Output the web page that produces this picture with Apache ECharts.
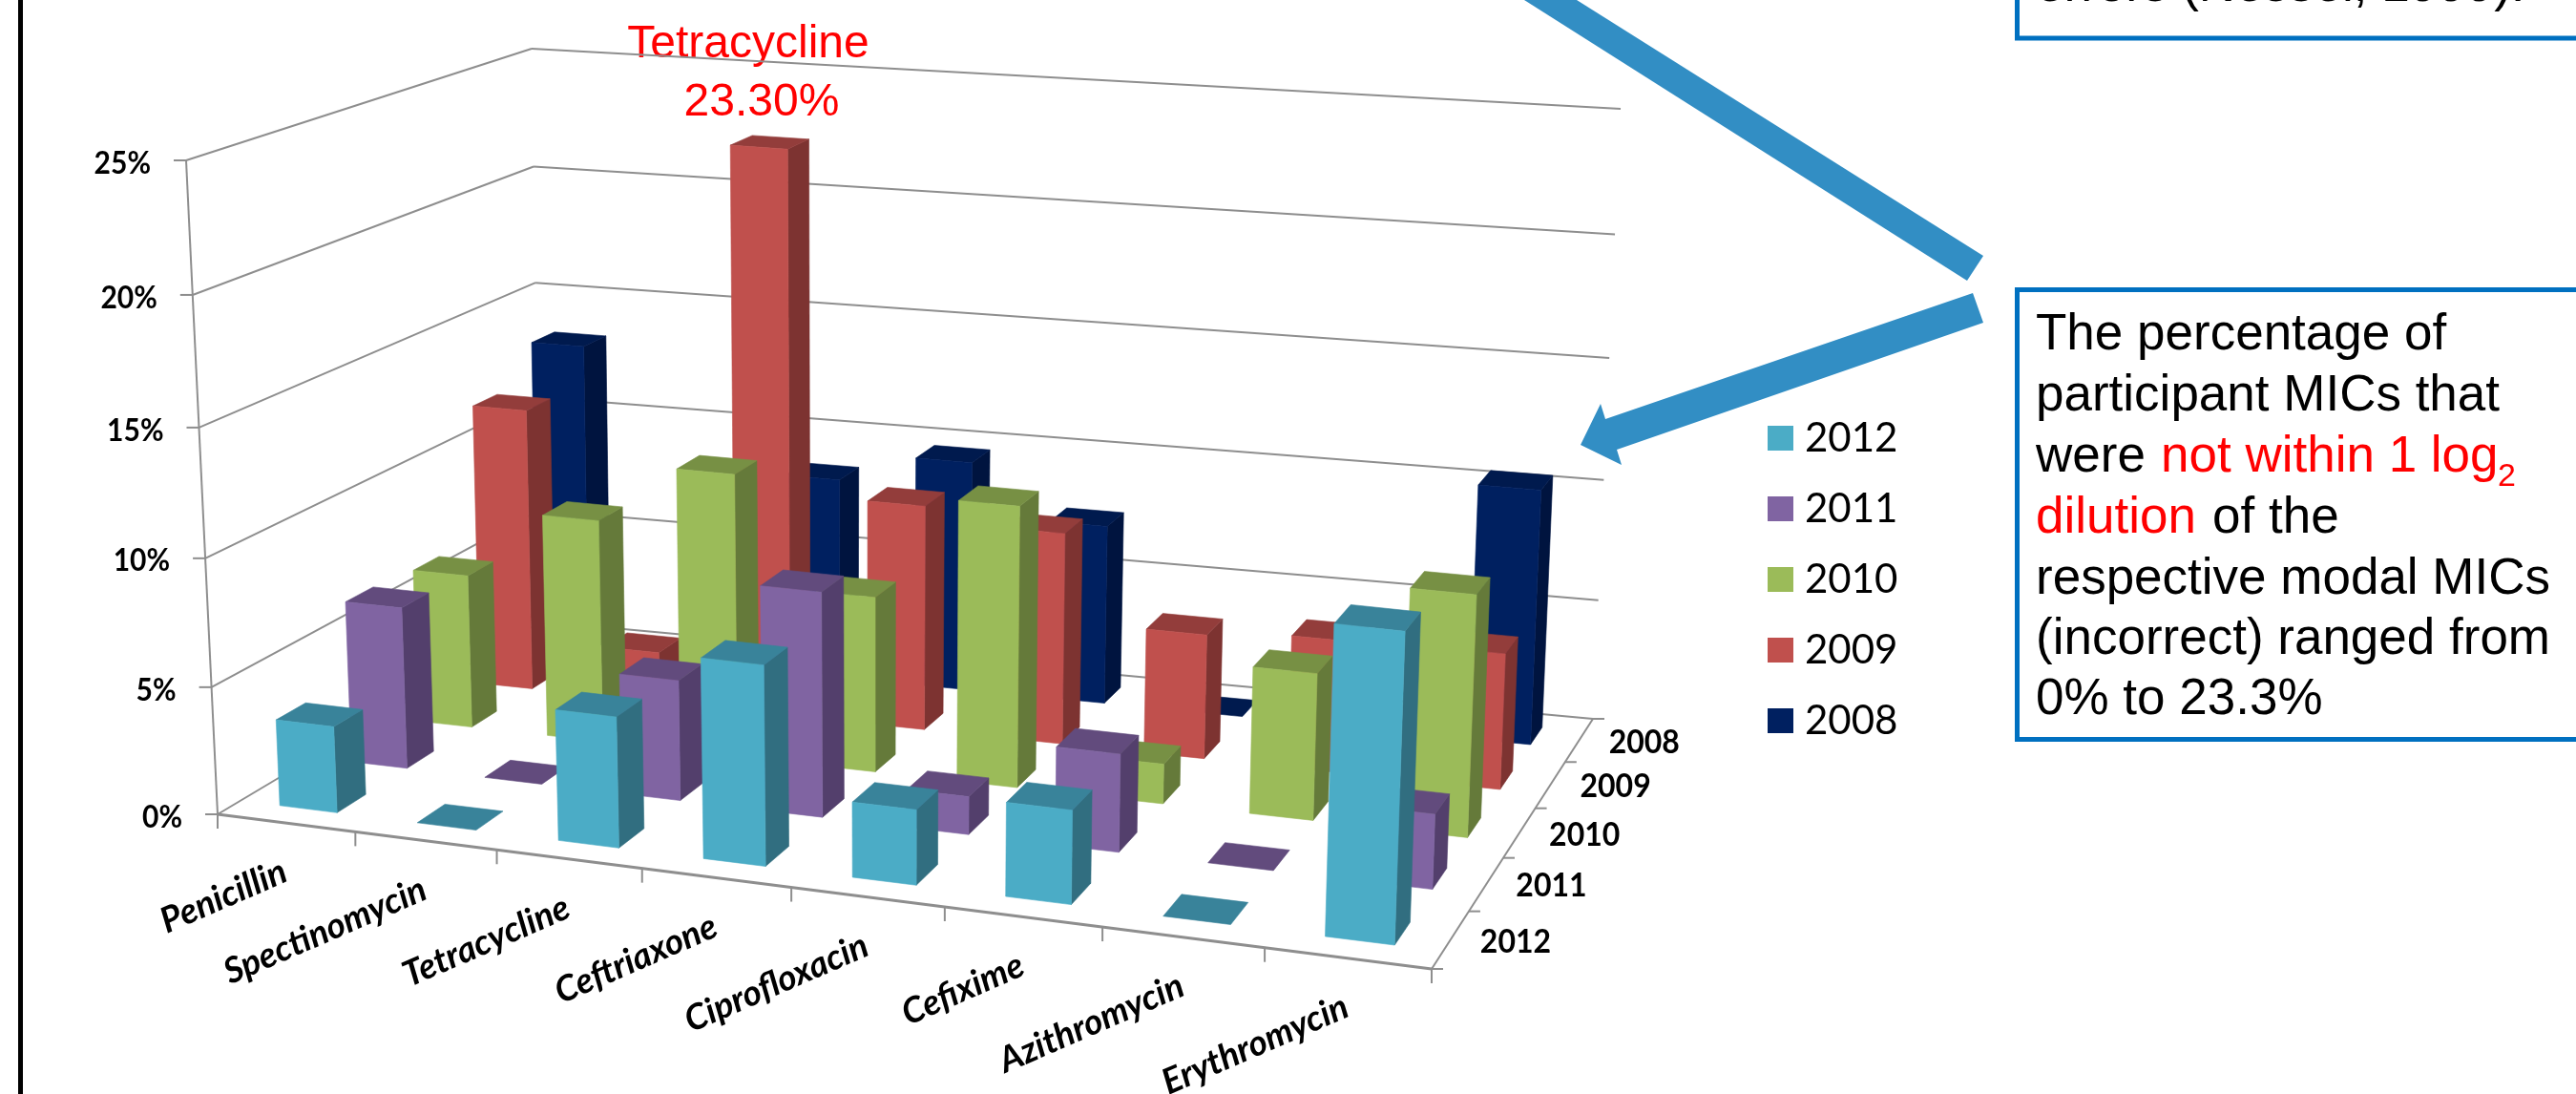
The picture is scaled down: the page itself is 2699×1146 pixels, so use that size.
<!DOCTYPE html>
<html><head><meta charset="utf-8">
<style>html,body{margin:0;padding:0;background:#fff}#c{width:2699px;height:1146px}</style>
<script src="https://cdn.jsdelivr.net/npm/echarts@6/dist/echarts.min.js"></script>
</head><body><div id="c"></div>
<script>
const categories = ['Penicillin','Spectinomycin','Tetracycline','Ceftriaxone','Ciprofloxacin','Cefixime','Azithromycin','Erythromycin'];
const years = ['2008','2009','2010','2011','2012'];
const yTicks = [0,5,10,15,20,25];
const v2008 = [13.3,0,8.5,9.7,7.5,0,0,10.5];
const v2009 = [11.8,2.1,23.3,9.3,8.7,5.1,5.4,5.5];
const v2010 = [6.3,9.1,11.5,7.1,11.3,1.6,5.85,9.55];
const v2011 = [6.5,0,4.8,8.9,1.5,3.85,0,2.9];
const v2012 = [3.4,0,5.1,7.75,2.9,3.6,0,11.65];
const yearValues = [v2008,v2009,v2010,v2011,v2012];
const frontColors = ['#002060','#C0504D','#9BBB59','#8064A2','#4BACC6'];
const topColors   = ['#001A4E','#933D3B','#779044','#624B7D','#39839A'];
const sideColors  = ['#00143F','#7D3331','#657A3A','#533F6C','#316E80'];

// chart box as drawn: corners front-left, front-right, back-right, back-left at 0% and at 25%
const floorQ = [[228,853],[1500,1015],[1669,753],[567,651]];
const ceilQ  = [[195,168],[1526,288],[1698,114],[557,51]];
const qCat=1.116, qRow=0.835, qZ=-0.035; // foreshortening along categories, rows and height
const warp=(a,q)=>a/(a+q*(1-a));
const bil=(Q,s,t)=>[0,1].map(k=>(1-t)*((1-s)*Q[0][k]+s*Q[1][k])+t*((1-s)*Q[3][k]+s*Q[2][k]));
function proj(u,t,z){ // u: categories (0..8), t: rows (0 = front .. 5 = back), z: percent
  const s=warp(u/categories.length,qCat), r=warp(t/years.length,qRow), zn=z/25;
  const f=(1+qZ)*zn/(1+qZ*zn);
  const a=bil(floorQ,s,r), b=bil(ceilQ,s,r);
  return [a[0]+(b[0]-a[0])*f, a[1]+(b[1]-a[1])*f];
}
const barW=0.42, barD=0.4;

function scales(params,api,cat,val){
  const cs=params.coordSys, pt=api.coord([cat,val]), band=api.size([1,0])[0];
  return {u:(pt[0]-cs.x)/band, z:(cs.y+cs.height-pt[1])/cs.height*25};
}
function poly(pts,fill,stroke){
  return {type:'polygon',shape:{points:pts},style:{fill,stroke:stroke||fill,lineWidth:0.6}};
}
function line(a,b,w){
  return {type:'line',shape:{x1:a[0],y1:a[1],x2:b[0],y2:b[1]},style:{stroke:'#8E8E8E',lineWidth:w||2}};
}
function barItem(yi){
  return function(params,api){
    const i=api.value(0), val=api.value(1), sc=scales(params,api,i,val);
    const row=years.length-1-yi;
    const u0=sc.u-barW/2,u1=sc.u+barW/2,t0=row+.5-barD/2,t1=row+.5+barD/2,z=sc.z;
    const children=[];
    if(z>0){
      children.push(poly([proj(u1,t0,0),proj(u1,t1,0),proj(u1,t1,z),proj(u1,t0,z)],sideColors[yi]));
    }
    children.push(poly([proj(u0,t0,z),proj(u1,t0,z),proj(u1,t1,z),proj(u0,t1,z)],topColors[yi]));
    if(z>0){
      children.push(poly([proj(u0,t0,0),proj(u1,t0,0),proj(u1,t0,z),proj(u0,t0,z)],frontColors[yi]));
    }
    return {type:'group',children};
  };
}
function frameItem(params,api){
  const nc=categories.length,ny=years.length,kids=[];
  yTicks.forEach(tv=>{
    const z=scales(params,api,0,tv).z;
    const a=proj(0,0,z),b=proj(0,ny,z),c=proj(nc,ny,z);
    kids.push(line(a,b),line(b,c),line(a,[a[0]-13,a[1]]));
    kids.push({type:'text',x:a[0]-37,y:a[1]+3,scaleY:1.1,style:{text:tv+'%',font:'bold 30px Lato',fill:'#000',align:'right',verticalAlign:'middle'}});
  });
  kids.push(line(proj(0,0,0),proj(0,0,25)));
  kids.push(line(proj(0,0,0),proj(nc,0,0),3));
  kids.push(line(proj(nc,0,0),proj(nc,ny,0)));
  for(let i=0;i<=nc;i++){const p=proj(i,0,0);kids.push(line(p,[p[0],p[1]+15]));}
  for(let r=0;r<=ny;r++){const p=proj(nc,r,0);kids.push(line(p,[p[0]+12,p[1]]));}
  categories.forEach((c,i)=>{
    const p=proj(i+.5,0,0);
    kids.push({type:'text',x:p[0]-1,y:p[1]+49,rotation:0.41,style:{text:c,font:'italic bold 37px Lato',fill:'#000',align:'right',verticalAlign:'middle'}});
  });
  years.forEach((y,yi)=>{
    const p=proj(nc,ny-1-yi+.5,0);
    kids.push({type:'text',x:p[0]+31,y:p[1]+2,scaleY:1.1,style:{text:y,font:'bold 32px Lato',fill:'#000',align:'left',verticalAlign:'middle'}});
  });
  return {type:'group',children:kids};
}
const txt=(x,y,text,fill,size,align)=>({type:'text',x,y,silent:true,style:{text,fill:fill||'#000',font:(size||53)+'px "Liberation Sans"',align:align||'left',verticalAlign:'middle'}});
const graphics=[
  {type:'rect',shape:{x:19,y:0,width:5,height:1146},style:{fill:'#000'},silent:true},
  {type:'polygon',shape:{points:[[1597,0],[1652,0],[2078,268],[2061,294]]},style:{fill:'#328EC4'},silent:true},
  {type:'polygon',shape:{points:[[1656,466],[1677,423],[1682,439],[2067,307],[2078,338],[1694,471],[1699,487]]},style:{fill:'#328EC4'},silent:true},
  {type:'rect',shape:{x:2113.5,y:-20,width:640,height:60},style:{fill:'#fff',stroke:'#0070C0',lineWidth:5},silent:true},
  txt(2133,-14,'errors (Nessel, 1999).'),
  {type:'rect',shape:{x:2113.5,y:303.5,width:640,height:471},style:{fill:'#fff',stroke:'#0070C0',lineWidth:5},silent:true},
  txt(2133,351,'The percentage of'),
  txt(2133,415,'participant MICs that'),
  txt(2133,479,'were '),
  txt(2264,479,'not within 1 log','#FF0000'),
  txt(2617,500,'2','#FF0000',34),
  txt(2133,543,'dilution','#FF0000'),
  txt(2318,543,'of the'),
  txt(2133,607,'respective modal MICs'),
  txt(2133,670,'(incorrect) ranged from'),
  txt(2133,733,'0% to 23.3%'),
  txt(784,47,'Tetracycline','#FF0000',48,'center'),
  txt(798,108,'23.30%','#FF0000',48,'center')
];
const series=[{name:'frame',type:'custom',silent:true,clip:false,renderItem:frameItem,data:[[0,0]],z:1}];
years.forEach((y,yi)=>{
  series.push({name:y,type:'custom',silent:true,clip:false,renderItem:barItem(yi),z:2+yi,
    itemStyle:{color:frontColors[yi]},encode:{x:0,y:1},
    data:yearValues[yi].map((v,i)=>[i,v])});
});
const chart=echarts.init(document.getElementById('c'),null,{renderer:'canvas'});
chart.setOption({
  animation:false,backgroundColor:'#fff',
  grid:{left:0,top:0,right:0,bottom:0,containLabel:false},
  xAxis:{type:'category',data:categories,show:false},
  yAxis:{type:'value',min:0,max:25,interval:5,show:false},
  legend:{data:years.slice().reverse(),orient:'vertical',left:1852,top:438,padding:0,itemWidth:27,itemHeight:26,itemGap:32,icon:'rect',selectedMode:false,
    textStyle:{fontFamily:'Lato',fontSize:42,color:'#000',padding:[0,0,0,7]}},
  tooltip:{show:false},
  series,
  graphic:{elements:graphics}
});
</script></body></html>
